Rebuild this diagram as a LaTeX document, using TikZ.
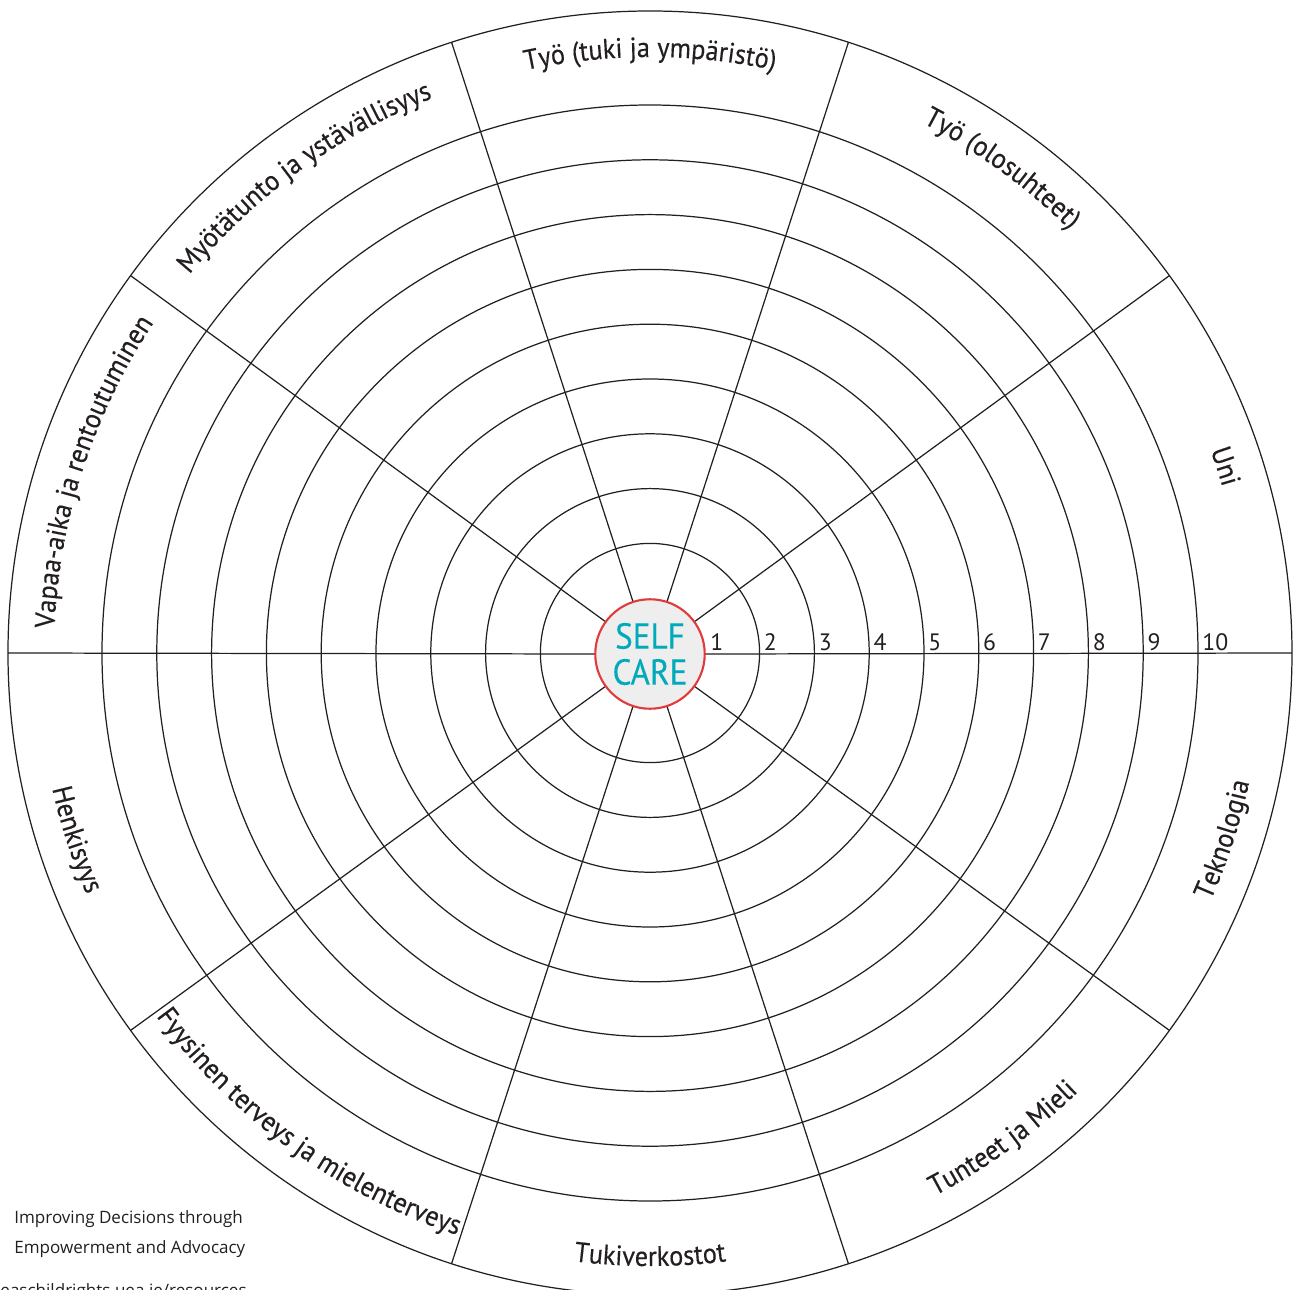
\documentclass[tikz,border=0pt]{standalone}
\usepackage{fontspec}
\usetikzlibrary{decorations.text}
\newfontfamily\wheelfont[FakeStretch=0.935, FakeBold=0.35]{PT Sans}
\newfontfamily\carefont[FakeStretch=0.92, FakeBold=0.3]{PT Sans}
\newfontfamily\ringnumfont{PT Sans}
\newfontfamily\ideasfont{Open Sans}
\definecolor{wheelline}{RGB}{35,31,32}
\definecolor{selfteal}{RGB}{0,170,187}
\definecolor{selfred}{RGB}{226,58,58}
\definecolor{selfgray}{RGB}{238,238,238}
\tikzset{
  ring/.style={draw=wheelline, line width=0.7pt},
  spoke/.style={draw=wheelline, line width=0.7pt},
  ringnum/.style={anchor=base west, inner sep=0pt, text=wheelline,
    font=\ringnumfont\fontsize{13.5}{14}\selectfont},
  arclabel/.style={decorate, decoration={text along path, text align=center,
    text color=wheelline, text={|\wheelfont\fontsize{16}{19}\selectfont|#1}}},
  ideas/.style={inner sep=0pt, text=wheelline,
    font=\ideasfont\fontsize{9.7}{12}\selectfont}
}
\begin{document}
\begin{tikzpicture}[x=0.02cm, y=0.02cm]
      \useasboundingbox (-650,-636) rectangle (648,653);
      % rings
      \draw[ring] (0,0) circle (109.6);
      \draw[ring] (0,0) circle (164.4);
      \draw[ring] (0,0) circle (219.2);
      \draw[ring] (0,0) circle (274);
      \draw[ring] (0,0) circle (328.8);
      \draw[ring] (0,0) circle (383.6);
      \draw[ring] (0,0) circle (438.4);
      \draw[ring] (0,0) circle (493.2);
      \draw[ring] (0,0) circle (548);
      \draw[ring] (0,0) circle (642);
      % centre
      \node[circle, draw=selfred, line width=1.2pt, fill=selfgray,
        minimum size=2.19cm, inner sep=0pt, align=center, text=selfteal,
        font=\carefont\fontsize{20.5}{20.5}\selectfont] (care) at (0,-1) {SELF\\CARE};
      % spokes
      \draw[spoke] (care.0) -- (0:642);
      \draw[spoke] (care.36) -- (36:642);
      \draw[spoke] (care.72) -- (72:642);
      \draw[spoke] (care.108) -- (108:642);
      \draw[spoke] (care.144) -- (144:642);
      \draw[spoke] (care.180) -- (180:642);
      \draw[spoke] (care.216) -- (216:642);
      \draw[spoke] (care.252) -- (252:642);
      \draw[spoke] (care.288) -- (288:642);
      \draw[spoke] (care.324) -- (324:642);
      % scale
      \node[ringnum] (n1) at (60,3) {1};
      \node[ringnum] (n2) at (113.6,3) {2};
      \node[ringnum] (n3) at (168.4,3) {3};
      \node[ringnum] (n4) at (223.2,3) {4};
      \node[ringnum] (n5) at (278,3) {5};
      \node[ringnum] (n6) at (332.8,3) {6};
      \node[ringnum] (n7) at (387.6,3) {7};
      \node[ringnum] (n8) at (442.4,3) {8};
      \node[ringnum] (n9) at (497.2,3) {9};
      \node[ringnum] (n10) at (552,3) {10};
      % upper labels
      \path[arclabel={Uni}] (58:596) arc[start angle=58, end angle=-22, radius=596];
      \path[arclabel={Työ (olosuhteet)}] (94:596) arc[start angle=94, end angle=14, radius=596];
      \path[arclabel={Työ (tuki ja ympäristö)}] (130:596) arc[start angle=130, end angle=50, radius=596];
      \path[arclabel={Myötätunto ja ystävällisyys}] (166:596) arc[start angle=166, end angle=86, radius=596];
      \path[arclabel={Vapaa-aika ja rentoutuminen}] (202:596) arc[start angle=202, end angle=122, radius=596];
      % lower labels
      \path[arclabel={Henkisyys}] (158:613) arc[start angle=158, end angle=238, radius=613];
      \path[arclabel={Fyysinen terveys ja mielenterveys}] (194:613) arc[start angle=194, end angle=274, radius=613];
      \path[arclabel={Tukiverkostot}] (230:613) arc[start angle=230, end angle=310, radius=613];
      \path[arclabel={Tunteet ja Mieli}] (266:613) arc[start angle=266, end angle=346, radius=613];
      \path[arclabel={Teknologia}] (302:613) arc[start angle=302, end angle=382, radius=613];
      % footer
      \node[ideas, anchor=base west] (ideas1) at (-636,-570) {Improving Decisions through};
      \node[ideas, anchor=base west] (ideas2) at (-636,-600) {Empowerment and Advocacy};
      \node[ideas, anchor=base east] (ideas3) at (-403,-643) {ideaschildrights.uea.ie/resources};
    \end{tikzpicture}
\end{document}
